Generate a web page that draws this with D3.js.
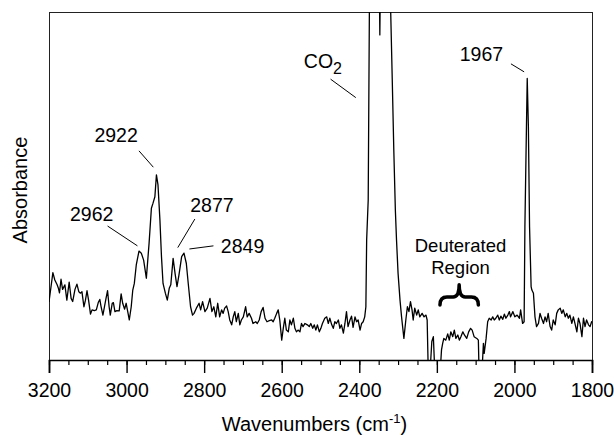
<!DOCTYPE html>
<html lang="en">
<head>
<meta charset="UTF-8">
<title>IR spectrum - Absorbance vs Wavenumbers</title>
<script src="https://d3js.org/d3.v7.min.js"></script>
<style>
  body { margin: 0; background: #fff; }
  svg text { font-family: "Liberation Sans", Arial, Helvetica, sans-serif; fill: #000; }
</style>
</head>
<body>
<div id="chart"></div>
<script>
// spectrum (absorbance in arbitrary units, 1 = top of frame)
const wavenumbers = [
  3200,3190,3185,3179,3176,3173,3169,3165,3159,3154,3148,3143,3139,3133,3128,3123,3119,3115,3110,3106,
  3102,3098,3093,3089,3083,3078,3073,3069,3066,3061,3057,3053,3049,3045,3042,3037,3034,3030,3025,3019,
  3014,3010,3005,3001,2997,2993,2988,2984,2980,
  2975,2968,2962,2956,2949,2942,2936,2932,2927,2923,2919,2914,2910,2906,2900,2895,2890,2886,2880,2875,
  2870,2865,2858,2852,2846,2841,2835,2830,2826,2820,2813,2809,2804,2798,2792,2785,2780,2775,2770,2765,
  2760,2755,2751,2747,2742,2738,2734,2729,2725,2721,2717,2712,2708,2704,2699,2693,2689,2684,2678,2674,
  2667,2663,2658,2653,2648,2643,2638,2632,2626,2622,2618,2613,2609,2605,2600,2596,2592,2588,2583,2579,
  2575,2570,2566,2562,2558,2553,2549,2545,2540,2534,2529,2525,2520,2516,2512,2508,2503,2499,2495,2489,
  2484,2480,2476,2471,2467,2463,2459,2454,
  2450,2446,2441,2437,2433,2429,2424,2420,2416,2411,2407,2403,2398,2394,2390,2386,2383,2381,2377,2374,
  2371,2349,2347,2345,2321,2319,2315,2311,2307,2304,2300,2295,2291,2285,2280,2276,2272,2268,2264,2261,
  2257,2252,2248,2244,2238,2233,2228,2225,2222,
  2218,2213,2209,2205,2192,2188,2185,2182,2177,2172,2168,2164,2159,2155,2151,2146,2142,2138,2133,2129,
  2123,2118,2113,2109,2104,2097,2093,2091,2084,2080,2078,2073,2069,2065,2060,2056,2052,2048,2043,2039,
  2035,2030,2026,2022,2017,2013,
  2010,2004,1999,1993,1987,1984,1979,1975,1973,1969,1967,1964,1961,1957,1955,1951,1947,1943,1938,1934,
  1930,1925,1921,1917,1913,1908,1904,1900,1895,1891,1887,1882,1878,1874,1869,1865,1861,1857,1852,1848,
  1844,1839,1835,1831,1826,1822,1818,1814,1809,1805,1801,1800
];
const absorbance = [
  0.167,0.251,0.230,0.216,0.207,0.193,0.232,0.203,0.216,0.172,0.224,0.177,0.168,0.203,0.218,0.196,0.192,0.196,0.153,0.172,
  0.199,0.172,0.132,0.144,0.142,0.144,0.165,0.174,0.155,0.129,0.153,0.177,0.199,0.153,0.129,0.163,0.165,0.139,0.142,0.141,
  0.190,0.163,0.146,0.163,0.139,0.115,0.153,0.201,0.220,
  0.273,0.313,0.307,0.287,0.235,0.335,0.436,0.450,0.469,0.532,0.503,0.402,0.297,0.220,0.192,0.172,0.206,0.216,0.292,0.249,
  0.211,0.244,0.297,0.307,0.278,0.220,0.153,0.129,0.134,0.149,0.163,0.144,0.168,0.139,0.149,0.177,0.139,0.153,0.124,0.163,
  0.124,0.144,0.134,0.149,0.155,0.139,0.115,0.101,0.124,0.139,0.110,0.134,0.101,0.115,0.124,0.153,0.124,0.134,0.120,0.105,
  0.110,0.105,0.115,0.139,0.151,0.120,0.110,0.113,0.115,0.110,0.120,0.134,0.144,0.115,0.057,0.091,0.120,0.086,0.081,0.115,
  0.101,0.120,0.091,0.081,0.086,0.081,0.105,0.096,0.105,0.101,0.096,0.105,0.091,0.101,0.086,0.101,0.081,0.091,0.105,0.120,
  0.124,0.105,0.120,0.101,0.091,0.110,0.105,0.115,
  0.091,0.101,0.077,0.105,0.139,0.096,0.115,0.126,0.094,0.124,0.110,0.115,0.086,0.105,0.110,0.124,0.153,0.345,0.460,1.000,
  1.150,1.150,0.934,1.150,1.150,1.000,0.805,0.603,0.431,0.345,0.249,0.172,0.124,0.062,0.115,0.153,0.139,0.168,0.144,0.115,
  0.149,0.129,0.144,0.124,0.134,0.124,0.129,0.115,-0.043,
  -0.043,0.053,0.067,-0.043,-0.043,0.029,0.048,0.062,0.057,0.075,0.057,0.081,0.067,0.086,0.062,0.072,0.057,0.067,0.081,0.072,
  0.062,0.081,0.091,0.086,0.067,0.062,0.057,-0.043,-0.043,0.048,0.019,0.062,0.110,0.120,0.115,0.124,0.115,0.120,0.129,0.115,
  0.126,0.117,0.132,0.120,0.129,0.139,
  0.124,0.139,0.124,0.129,0.120,0.144,0.105,0.110,0.383,0.670,0.809,0.670,0.383,0.211,0.201,0.192,0.124,0.096,0.105,0.134,
  0.120,0.105,0.124,0.110,0.134,0.096,0.086,0.115,0.101,0.134,0.144,0.149,0.134,0.144,0.124,0.134,0.120,0.129,0.105,0.124,
  0.105,0.081,0.120,0.105,0.067,0.120,0.096,0.115,0.101,0.096,0.110,0.110
];

const majorTicks = [3200, 3000, 2800, 2600, 2400, 2200, 2000, 1800];
const minorTicks = d3.range(3200, 1799, -50);

// peak labels: text position and leader line, in data units
const peakLabels = [
  { text: "2922", x: 3027, y: 0.626, from: [2968, 0.601], to: [2931, 0.554] },
  { text: "2962", x: 3090, y: 0.400, from: [3049, 0.385], to: [2972, 0.328] },
  { text: "2877", x: 2780, y: 0.424, from: [2824, 0.405], to: [2868, 0.323] },
  { text: "2849", x: 2701, y: 0.307, from: [2776, 0.328], to: [2838, 0.319] },
  { text: "1967", x: 2085, y: 0.859, from: [2009, 0.851], to: [1975, 0.828] }
];
const co2Label = { x: 2543, y: 0.838, from: [2474, 0.807], to: [2409, 0.754] };
const regionLabel = { lines: ["Deuterated", "Region"], x: 2139, y: [0.311, 0.247] };
const brace = { left: 2192, right: 2093, top: 0.216, bottom: 0.158 };

const margin = { top: 12, right: 22, bottom: 75, left: 49 };
const width = 614 - margin.left - margin.right;
const height = 435 - margin.top - margin.bottom;

const data = wavenumbers.map((wn, i) => ({ wn: wn, a: absorbance[i] }));

const x = d3.scaleLinear().domain([3200, 1800]).range([0, width]);
const y = d3.scaleLinear().domain([0, 1]).range([height, 0]);

const svg = d3.select("#chart").append("svg")
    .attr("width", 614)
    .attr("height", 435)
  .append("g")
    .attr("transform", `translate(${margin.left},${margin.top})`);

svg.append("defs").append("clipPath")
    .attr("id", "plot-clip")
  .append("rect")
    .attr("width", width)
    .attr("height", height);

// frame
svg.append("rect")
    .attr("x", 0.5)
    .attr("y", 0.5)
    .attr("width", width)
    .attr("height", height)
    .attr("fill", "none")
    .attr("stroke", "#222")
    .attr("stroke-width", 1);

// minor ticks
svg.append("g")
    .attr("transform", `translate(0,${height})`)
    .call(d3.axisBottom(x).tickValues(minorTicks).tickSize(5).tickFormat(""))
    .call(g => g.select(".domain").remove())
    .call(g => g.selectAll(".tick line").attr("stroke", "#000").attr("stroke-width", 1.2));

// major ticks + labels
const xAxis = svg.append("g")
    .attr("transform", `translate(0,${height})`)
    .call(d3.axisBottom(x).tickValues(majorTicks).tickSize(13).tickPadding(10).tickFormat(d3.format("d")));
xAxis.select(".domain").attr("stroke", "#000").attr("stroke-width", 1.6);
xAxis.selectAll(".tick line").attr("stroke", "#000").attr("stroke-width", 1.4);
xAxis.selectAll(".tick text")
    .attr("font-family", "Liberation Sans, Arial, sans-serif")
    .attr("font-size", 19.5)
    .attr("fill", "#000");

// axis titles
const xTitle = svg.append("text")
    .attr("x", width / 2 - 6)
    .attr("y", height + 71)
    .attr("text-anchor", "middle")
    .attr("font-size", 20);
xTitle.append("tspan").text("Wavenumbers (cm");
xTitle.append("tspan").attr("font-size", 13).attr("dy", -8).text("-1");
xTitle.append("tspan").attr("dy", 8).text(")");

svg.append("text")
    .attr("transform", `translate(${27 - margin.left},${height / 2 + 4}) rotate(-90)`)
    .attr("text-anchor", "middle")
    .attr("font-size", 20)
    .text("Absorbance");

// spectrum
const line = d3.line()
    .x(d => x(d.wn))
    .y(d => y(d.a));

svg.append("path")
    .datum(data)
    .attr("clip-path", "url(#plot-clip)")
    .attr("fill", "none")
    .attr("stroke", "#000")
    .attr("stroke-width", 1.3)
    .attr("stroke-linejoin", "round")
    .attr("d", line);

// peak annotations
peakLabels.forEach(p => {
    svg.append("text")
        .attr("x", x(p.x))
        .attr("y", y(p.y))
        .attr("text-anchor", "middle")
        .attr("font-size", 19.5)
        .text(p.text);
    svg.append("line")
        .attr("x1", x(p.from[0])).attr("y1", y(p.from[1]))
        .attr("x2", x(p.to[0])).attr("y2", y(p.to[1]))
        .attr("stroke", "#000")
        .attr("stroke-width", 1);
});

const co2 = svg.append("text")
    .attr("x", x(co2Label.x))
    .attr("y", y(co2Label.y))
    .attr("font-size", 19.5);
co2.append("tspan").text("CO");
co2.append("tspan").attr("font-size", 16).attr("dy", 6).text("2");
svg.append("line")
    .attr("x1", x(co2Label.from[0])).attr("y1", y(co2Label.from[1]))
    .attr("x2", x(co2Label.to[0])).attr("y2", y(co2Label.to[1]))
    .attr("stroke", "#000")
    .attr("stroke-width", 1);

regionLabel.lines.forEach((t, i) => {
    svg.append("text")
        .attr("x", x(regionLabel.x))
        .attr("y", y(regionLabel.y[i]))
        .attr("text-anchor", "middle")
        .attr("font-size", 18.5)
        .text(t);
});

// curly brace over the deuterated region
const bl = x(brace.left), br = x(brace.right), bc = (bl + br) / 2;
const bt = y(brace.top), bb = y(brace.bottom), bm = (bt + bb) / 2 + 2;
const bp = d3.path();
bp.moveTo(bl, bb);
bp.quadraticCurveTo(bl, bm, bl + 7, bm);
bp.lineTo(bc - 6, bm);
bp.quadraticCurveTo(bc, bm, bc, bt);
bp.quadraticCurveTo(bc, bm, bc + 6, bm);
bp.lineTo(br - 7, bm);
bp.quadraticCurveTo(br, bm, br, bb);
svg.append("path")
    .attr("d", bp.toString())
    .attr("fill", "none")
    .attr("stroke", "#000")
    .attr("stroke-width", 3.5)
    .attr("stroke-linecap", "round")
    .attr("stroke-linejoin", "round");
</script>
</body>
</html>
